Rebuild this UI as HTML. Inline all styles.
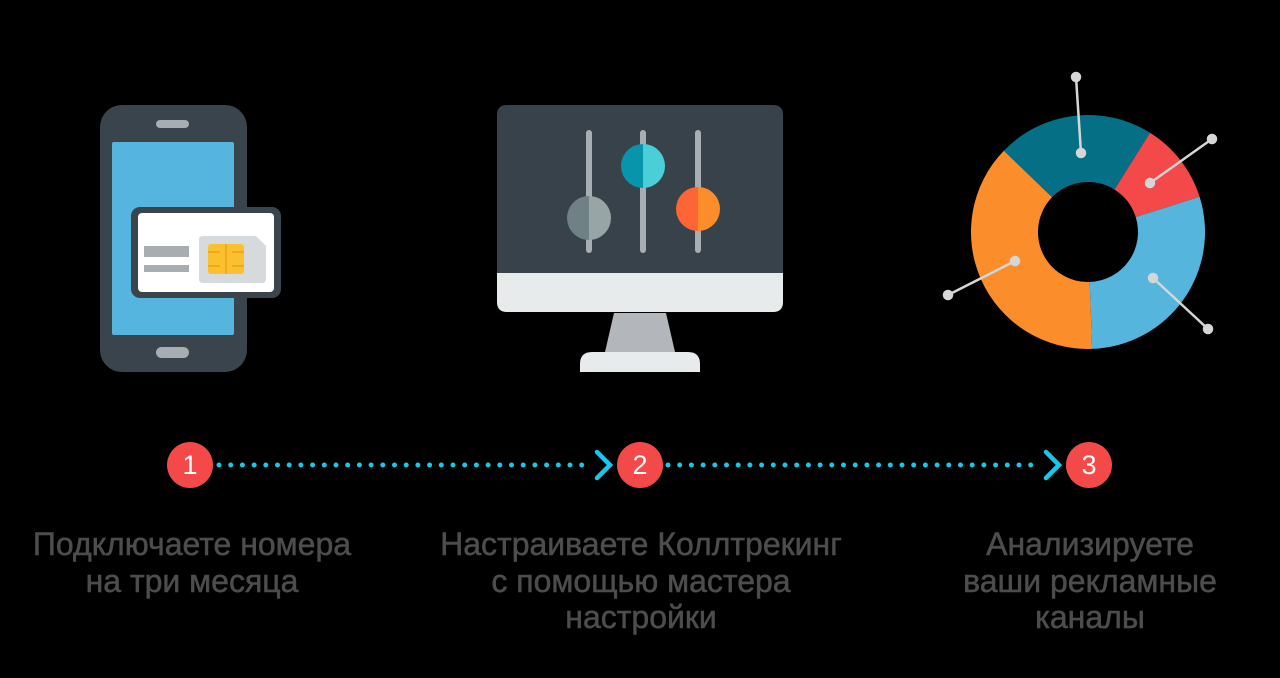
<!DOCTYPE html>
<html><head><meta charset="utf-8"><style>
html,body{margin:0;padding:0;background:#000;width:1280px;height:678px;overflow:hidden}
svg{display:block}
text{font-family:"Liberation Sans",sans-serif}
</style></head><body>
<svg width="1280" height="678" viewBox="0 0 1280 678" xmlns="http://www.w3.org/2000/svg">
<rect width="1280" height="678" fill="#000"/>
<!-- Phone -->
<rect x="100" y="105" width="147" height="267" rx="22" fill="#3a444d"/>
<rect x="112" y="142" width="122" height="193" rx="2" fill="#55b5df"/>
<rect x="156" y="120" width="33" height="8" rx="4" fill="#a8adb2"/>
<rect x="156" y="347" width="33" height="11" rx="5.5" fill="#a8adb2"/>
<rect x="131" y="207" width="150" height="91" rx="9" fill="#3a444d"/>
<rect x="138" y="213" width="136" height="79" rx="4" fill="#ffffff"/>
<rect x="144" y="246" width="45" height="11" fill="#a8adb2"/>
<rect x="144" y="265" width="45" height="7" fill="#a8adb2"/>
<path d="M203 236 H256 L266 246 V279 Q266 283 262 283 H203 Q199 283 199 279 V240 Q199 236 203 236 Z" fill="#d7dadc"/>
<rect x="208" y="244" width="36" height="30" rx="3" fill="#fbc02d"/>
<g stroke="#f0a020" stroke-width="1.5"><line x1="226" y1="244" x2="226" y2="274"/><line x1="208" y1="252" x2="220" y2="252"/><line x1="232" y1="252" x2="244" y2="252"/><line x1="208" y1="266" x2="220" y2="266"/><line x1="232" y1="266" x2="244" y2="266"/></g>
<!-- Monitor -->
<path d="M614 313 L666 313 L675 352 L605 352 Z" fill="#b3b7bb"/>
<path d="M592 352 H688 Q700 352 700 364 V372 H580 V364 Q580 352 592 352 Z" fill="#e7ebec"/>
<path d="M497 273 H783 V302 Q783 312 773 312 H507 Q497 312 497 302 Z" fill="#e7ebec"/>
<path d="M507 105 H773 Q783 105 783 115 V273 H497 V115 Q497 105 507 105 Z" fill="#38424b"/>
<g stroke="#a9aeb3" stroke-width="6" stroke-linecap="round"><line x1="589" y1="133" x2="589" y2="250"/><line x1="643" y1="133" x2="643" y2="250"/><line x1="698" y1="133" x2="698" y2="250"/></g>
<path d="M589 196 A22 22 0 0 0 589 240 Z" fill="#6f8184"/><path d="M589 196 A22 22 0 0 1 589 240 Z" fill="#97a5a6"/>
<path d="M643 144 A22 22 0 0 0 643 188 Z" fill="#0894ab"/><path d="M643 144 A22 22 0 0 1 643 188 Z" fill="#4acfd9"/>
<path d="M698 187 A22 22 0 0 0 698 231 Z" fill="#fd6535"/><path d="M698 187 A22 22 0 0 1 698 231 Z" fill="#fd8c2b"/>
<!-- Donut -->
<path d="M1003.8 150.7 A117 117 0 0 1 1150 132.8 L1114.5 189.6 A50 50 0 0 0 1052 197.3 Z" fill="#046f85"/>
<path d="M1150 132.8 A117 117 0 0 1 1199.6 196.8 L1135.7 217 A50 50 0 0 0 1114.5 189.6 Z" fill="#f34949"/>
<path d="M1199.6 196.8 A117 117 0 0 1 1092.1 348.9 L1089.7 282 A50 50 0 0 0 1135.7 217 Z" fill="#55b5dc"/>
<path d="M1092.1 348.9 A117 117 0 0 1 1003.8 150.7 L1052 197.3 A50 50 0 0 0 1089.7 282 Z" fill="#fb8e2b"/>
<g stroke="#d4d6d8" stroke-width="2.5" fill="#d4d6d8">
<line x1="1076" y1="77" x2="1081" y2="153"/><circle cx="1076" cy="77" r="4"/><circle cx="1081" cy="153" r="4"/>
<line x1="1212" y1="139" x2="1150" y2="183"/><circle cx="1212" cy="139" r="4"/><circle cx="1150" cy="183" r="4"/>
<line x1="1153" y1="278" x2="1208" y2="329"/><circle cx="1153" cy="278" r="4"/><circle cx="1208" cy="329" r="4"/>
<line x1="1015" y1="261" x2="948" y2="295"/><circle cx="1015" cy="261" r="4"/><circle cx="948" cy="295" r="4"/>
</g>
<!-- connectors -->
<g stroke="#17c8ea" stroke-width="5" stroke-linecap="round" fill="none">
<line x1="219" y1="465" x2="592" y2="465" stroke-dasharray="0 11.7"/>
<line x1="668" y1="465" x2="1041" y2="465" stroke-dasharray="0 11.7"/>
<polyline points="597,452 610,465 597,478" stroke-width="4.5"/>
<polyline points="1046,452 1059,465 1046,478" stroke-width="4.5"/>
</g>
<g fill="#f34949"><circle cx="190" cy="465" r="23"/><circle cx="640" cy="465" r="23"/><circle cx="1089" cy="465" r="23"/></g>
<g fill="#fff" font-size="27" text-anchor="middle"><text x="190" y="474">1</text><text x="640" y="474">2</text><text x="1089" y="474">3</text></g>
<g fill="#4d4d4d" stroke="#4d4d4d" stroke-width="0.5" font-size="32" text-anchor="middle">
<text x="192" y="555">Подключаете номера</text><text x="192" y="592">на три месяца</text>
<text x="641" y="555">Настраиваете Коллтрекинг</text><text x="641" y="592">с помощью мастера</text><text x="641" y="628">настройки</text>
<text x="1090" y="555">Анализируете</text><text x="1090" y="592">ваши рекламные</text><text x="1090" y="628">каналы</text>
</g>
</svg>
</body></html>
